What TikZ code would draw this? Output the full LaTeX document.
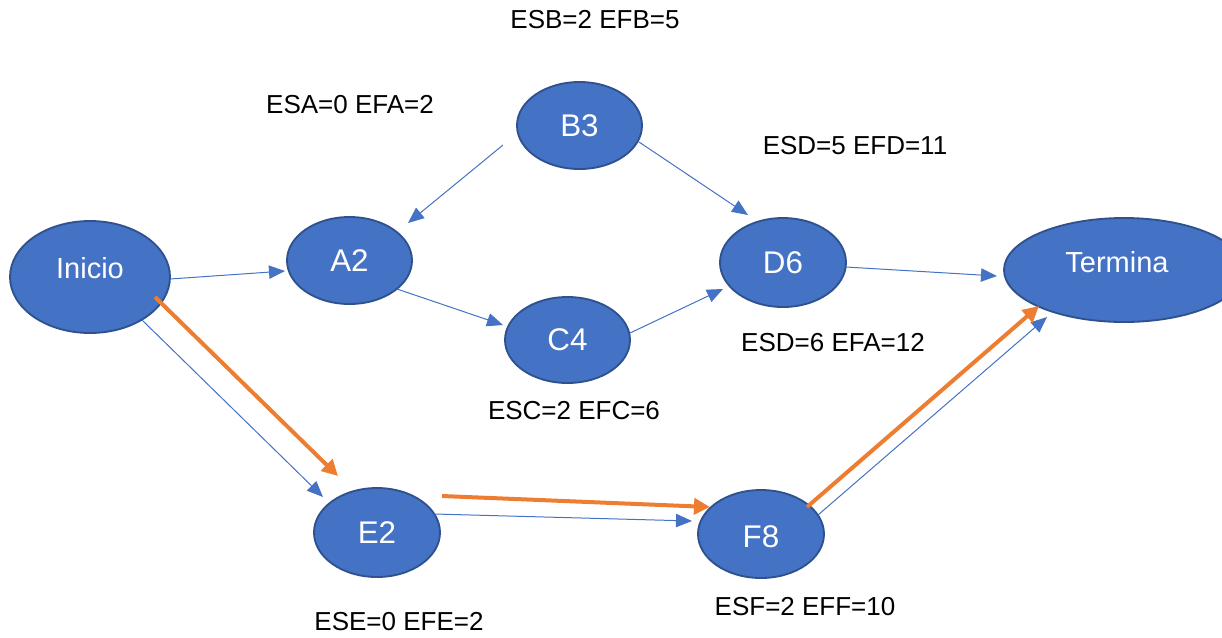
\documentclass[tikz,border=0pt]{standalone}
\usepackage{fontspec}
\setmainfont{Liberation Sans}
\usetikzlibrary{shapes.geometric,arrows.meta}
\definecolor{nodefill}{HTML}{4472C4}
\definecolor{nodeborder}{HTML}{2F528F}
\definecolor{critorange}{HTML}{ED7D31}
\tikzset{
  evt/.style={ellipse, draw=nodeborder, fill=nodefill, line width=1.4pt, inner sep=0pt,
              text=white, font=\fontsize{23.5}{28}\selectfont},
  evtxt/.style={text=white, font=\fontsize{21.75}{26}\selectfont, inner sep=0pt},
  lbl/.style={text=black, font=\fontsize{19.5}{23}\selectfont, inner sep=0pt},
  arr/.style={draw=nodefill, line width=0.75pt, -{Triangle[length=12pt, width=10pt]}},
  crit/.style={draw=critorange, line width=3pt, line cap=butt, -{Triangle[length=12pt, width=12pt]}}
}
\begin{document}
\begin{tikzpicture}[x=0.75pt, y=-0.75pt]
\useasboundingbox (0,0) rectangle (1222,637);

% event nodes
\node[evt, minimum width=160*0.75pt, minimum height=112*0.75pt,
      label={[evtxt, yshift=6.75pt]center:Inicio}] (inicio) at (90,277) {};
\node[evt, minimum width=125*0.75pt, minimum height=87*0.75pt] (A) at (349.5,260.5) {A2};
\node[evt, minimum width=125*0.75pt, minimum height=87*0.75pt] (B) at (579.5,125.5) {B3};
\node[evt, minimum width=125*0.75pt, minimum height=86*0.75pt] (C) at (567.5,340) {C4};
\node[evt, minimum width=126*0.75pt, minimum height=89*0.75pt] (D) at (783,262.5) {D6};
\node[evt, minimum width=240*0.75pt, minimum height=104*0.75pt,
      label={[evtxt, xshift=-5.25pt, yshift=6pt]center:Termina}] (T) at (1124,270) {};
\node[evt, minimum width=126*0.75pt, minimum height=89*0.75pt] (E) at (377,532.5) {E2};
\node[evt, minimum width=126*0.75pt, minimum height=88*0.75pt,
      label={[evt, draw=none, fill=none, yshift=-2.25pt]center:F8}] (F) at (761,534) {};

% labels
\node[lbl] (lB) at (595,20) {ESB=2 EFB=5};
\node[lbl] (lA) at (350,105) {ESA=0 EFA=2};
\node[lbl] (lD1) at (855,146) {ESD=5 EFD=11};
\node[lbl] (lD2) at (833,343) {ESD=6 EFA=12};
\node[lbl] (lC) at (574,411) {ESC=2 EFC=6};
\node[lbl] (lE) at (399,622) {ESE=0 EFE=2};
\node[lbl] (lF) at (805,607) {ESF=2 EFF=10};

% connector end points
\coordinate (iA1) at (170,279);  \coordinate (iA2) at (285,271);
\coordinate (bA1) at (503,145);  \coordinate (bA2) at (408,223);
\coordinate (bD1) at (639,142);  \coordinate (bD2) at (748,215);
\coordinate (aC1) at (397,289);  \coordinate (aC2) at (503,325);
\coordinate (cD1) at (630,333);  \coordinate (cD2) at (723,289);
\coordinate (dT1) at (846,267);  \coordinate (dT2) at (997,276);
\coordinate (iE1) at (142,320);  \coordinate (iE2) at (323,497);
\coordinate (iEo1) at (155,297); \coordinate (iEo2) at (338,476);
\coordinate (eF1) at (434,514);  \coordinate (eF2) at (692,521);
\coordinate (eFo1) at (442,496); \coordinate (eFo2) at (710,507);
\coordinate (fT1) at (818,515);  \coordinate (fT2) at (1047,317);
\coordinate (fTo1) at (807,507); \coordinate (fTo2) at (1039,306);

% blue connectors
\draw[arr] (iA1) -- (iA2);
\draw[arr] (bA1) -- (bA2);
\draw[arr] (bD1) -- (bD2);
\draw[arr] (aC1) -- (aC2);
\draw[arr] (cD1) -- (cD2);
\draw[arr] (dT1) -- (dT2);
\draw[arr] (iE1) -- (iE2);
\draw[arr] (eF1) -- (eF2);
\draw[arr] (fT1) -- (fT2);

% critical path (orange)
\draw[crit] (iEo1) -- (iEo2);
\draw[crit] (eFo1) -- (eFo2);
\draw[crit] (fTo1) -- (fTo2);
\end{tikzpicture}
\end{document}
